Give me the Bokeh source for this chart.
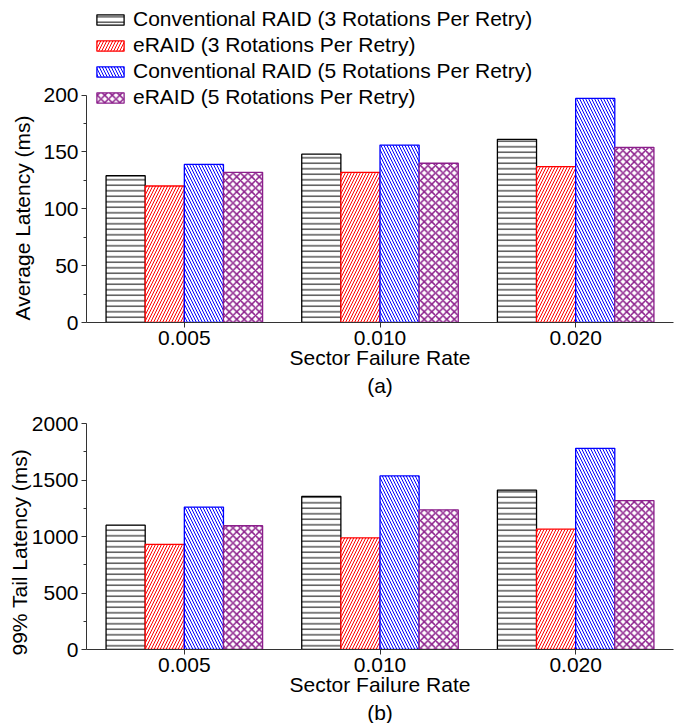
from bokeh.plotting import figure
from bokeh.models import (ColumnDataSource, FactorRange, Range1d, LinearAxis,
                          CategoricalAxis, FixedTicker, Legend, LegendItem, Title)
from bokeh.transform import dodge
from bokeh.layouts import column
from bokeh.embed import file_html
from bokeh.resources import INLINE

# ---------------- data ----------------
rates = ["0.005", "0.010", "0.020"]
series = ["Conventional RAID (3 Rotations Per Retry)",
          "eRAID (3 Rotations Per Retry)",
          "Conventional RAID (5 Rotations Per Retry)",
          "eRAID (5 Rotations Per Retry)"]

avg_conv3 = [129, 148, 161]
avg_eraid3 = [120, 132, 137]
avg_conv5 = [139, 156, 197]
avg_eraid5 = [132, 140, 154]

tail_conv3 = [1100, 1355, 1410]
tail_eraid3 = [930, 988, 1065]
tail_conv5 = [1260, 1536, 1780]
tail_eraid5 = [1095, 1236, 1318]

avg_ticks = [0, 50, 100, 150, 200]
avg_minor = [25, 75, 125, 175]
tail_ticks = [0, 500, 1000, 1500, 2000]
tail_minor = [250, 750, 1250, 1750]

# ---------------- style ----------------
FONT = "Liberation Sans"
FS = "21px"
colors = ["black", "#FF0000", "#0000FF", "#8B1E8B"]
hatches = ["horizontal_line", "right_diagonal_line", "left_diagonal_line", "diagonal_cross"]
hscale = [5.5, 6.0, 6.0, 7.5]
hweight = [1.0, 1.0, 1.0, 1.5]
offsets = [-0.3, -0.1, 0.1, 0.3]
W = 681


def panel(vals, ticks, minor, y_end, height, btop, bbot, ylabel, ylab_off, ylab_standoff,
          sub, legend):
    src = ColumnDataSource(dict(rate=rates, s0=vals[0], s1=vals[1], s2=vals[2], s3=vals[3]))
    p = figure(x_range=FactorRange(*rates), y_range=Range1d(0, y_end),
               width=W, height=height, output_backend="svg", toolbar_location=None,
               x_axis_location=None, y_axis_location=None,
               min_border_left=86, min_border_right=8,
               min_border_top=btop, min_border_bottom=bbot)
    p.outline_line_color = None
    for g in p.grid:
        g.visible = False
    p.background_fill_color = "white"
    p.border_fill_color = "white"

    rends = []
    for i in range(4):
        r = p.vbar(x=dodge("rate", offsets[i], range=p.x_range), top="s%d" % i,
                   width=0.2, source=src, fill_color="white",
                   line_color=colors[i], line_width=1.3,
                   hatch_pattern=hatches[i], hatch_color=colors[i],
                   hatch_scale=hscale[i], hatch_weight=hweight[i])
        rends.append(r)

    yax = LinearAxis(ticker=FixedTicker(ticks=ticks, minor_ticks=minor),
                     bounds=(ticks[0], ticks[-1]))
    yax.axis_line_color = "#333333"
    yax.major_tick_line_color = "#333333"
    yax.minor_tick_line_color = "#333333"
    yax.major_tick_out = 5
    yax.major_tick_in = 0
    yax.minor_tick_out = 3
    yax.minor_tick_in = 0
    yax.major_label_standoff = 3
    yax.major_label_text_font = FONT
    yax.major_label_text_font_size = FS
    yax.major_label_text_color = "black"
    p.add_layout(yax, "left")

    xax = CategoricalAxis(axis_label="Sector Failure Rate")
    xax.axis_line_color = "#333333"
    xax.major_tick_line_color = "#333333"
    xax.major_tick_out = 5
    xax.major_tick_in = 0
    xax.minor_tick_line_color = None
    xax.major_label_standoff = 3
    xax.major_label_text_font = FONT
    xax.major_label_text_font_size = FS
    xax.major_label_text_color = "black"
    xax.axis_label_text_font = FONT
    xax.axis_label_text_font_size = FS
    xax.axis_label_text_font_style = "normal"
    xax.axis_label_text_color = "black"
    xax.axis_label_standoff = -2
    p.add_layout(xax, "below")

    p.add_layout(Title(text=ylabel, align="left", offset=ylab_off,
                       standoff=ylab_standoff, text_font=FONT, text_font_size=FS,
                       text_font_style="normal", text_color="black"), "left")
    p.add_layout(Title(text=sub, align="center", standoff=0, text_font=FONT,
                       text_font_size=FS, text_font_style="normal",
                       text_color="black"), "below")

    if legend:
        lg = Legend(items=[LegendItem(label=series[i], renderers=[rends[i]]) for i in range(4)],
                    location="top_left", margin=7, padding=0, spacing=2,
                    glyph_width=34, glyph_height=13, label_standoff=6,
                    label_text_font=FONT, label_text_font_size=FS,
                    label_text_color="black",
                    background_fill_alpha=0, border_line_alpha=0)
        p.add_layout(lg)
    return p


p1 = panel([avg_conv3, avg_eraid3, avg_conv5, avg_eraid5], avg_ticks, avg_minor,
           322 / 1.1375, 400, 0, 78, "Average Latency (ms)", 2, 13, "(a)", True)
p2 = panel([tail_conv3, tail_eraid3, tail_conv5, tail_eraid5], tail_ticks, tail_minor,
           2000, 323, 23, 73, "99% Tail Latency (ms)", -6, -5, "(b)", False)

layout = column(p1, p2, spacing=0)
open("out.html", "w").write(file_html(layout, INLINE))
